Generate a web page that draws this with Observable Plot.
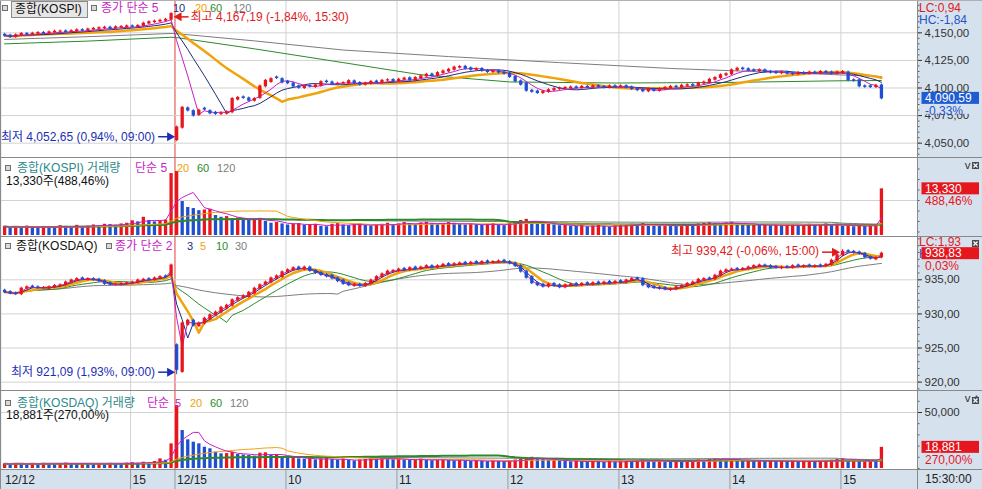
<!DOCTYPE html>
<html><head><meta charset="utf-8">
<script src="https://cdn.jsdelivr.net/npm/d3@7"></script>
<script src="https://cdn.jsdelivr.net/npm/@observablehq/plot@0.6"></script>
<style>
html,body{margin:0;padding:0;background:#fff}
#wrap{position:relative;width:982px;height:489px;overflow:hidden;background:#d6e1ee;font-family:"Liberation Sans","Noto Sans CJK KR",sans-serif}
.t{position:absolute;white-space:nowrap;font-size:12px;line-height:14px}
.n{font-size:11px}
.sq{position:absolute;width:4px;height:4px;background:#d9d9d9;border:1px solid #6f6f6f}
.ln{position:absolute;background:#8a8a8a}
.x{position:absolute;width:7px;height:7px;background:#4a4a4a}
</style></head>
<body><div id="wrap"></div>
<script>
// ---------- DATA ----------
const dates = ["12/12", "12/15"];
const dayStart = ["13:51", "09:00"];
const xTickLabels = ["12/12", "15", "12/15", "10", "11", "12", "13", "14", "15"];
const xTickTimes = ["12/12 13:51", "12/12 15:00", "12/15 09:00", "12/15 10:00", "12/15 11:00", "12/15 12:00", "12/15 13:00", "12/15 14:00", "12/15 15:00"];
const xTickBold = [true, false, true, false, false, false, false, false, false];

const kospiOpen = [
 4148.2,4147.4,4146.3,4147.9,4149.0,4148.6,4149.2,4149.9,4149.6,4150.5,
 4151.0,4151.3,4150.8,4151.5,4152.4,4152.0,4153.0,4153.7,4154.2,4154.7,
 4154.0,4155.0,4155.3,4155.9,4155.5,4156.2,4158.4,4159.7,4160.3,4161.0,4162.0,
 4052.7,4064.0,4081.5,4079.0,4075.5,4081.2,4079.0,4077.5,4076.3,4076.8,
 4078.0,4089.5,4091.5,4090.5,4088.5,4091.0,4101.5,4105.5,4109.5,4108.0,
 4105.5,4104.0,4101.5,4100.0,4101.8,4101.0,4102.0,4105.8,4105.0,4103.5,
 4104.0,4104.0,4106.0,4104.5,4103.0,4104.0,4105.8,4105.0,4106.8,4107.2,
 4106.0,4107.5,4108.8,4107.0,4109.0,4110.5,4112.2,4111.0,4113.5,4115.0,
 4116.5,4118.5,4119.2,4117.8,4116.5,4117.2,4115.5,4114.5,4115.2,4114.0,
 4113.0,4110.0,4106.0,4104.0,4097.5,4096.8,4095.5,4096.5,4098.0,4099.0,
 4099.5,4100.0,4100.6,4100.0,4101.0,4100.5,4101.6,4101.0,4100.5,4101.6,
 4101.0,4101.6,4100.5,4099.0,4098.2,4097.0,4098.6,4097.5,4099.0,4100.0,
 4101.2,4100.5,4102.0,4102.6,4102.0,4104.0,4105.0,4107.5,4109.0,4111.5,
 4112.5,4116.0,4117.6,4117.0,4116.0,4115.4,4116.0,4114.6,4114.0,4113.4,
 4114.0,4113.0,4112.5,4113.6,4113.0,4114.0,4113.5,4114.6,4114.0,4113.0,
 4113.5,4114.0,4107.0,4107.0,4101.5,4101.5,4100.8,4102.3];
const kospiClose = [
 4147.5,4146.2,4147.8,4149.0,4148.5,4149.2,4149.8,4149.6,4150.4,4151.0,
 4151.2,4150.8,4151.5,4152.3,4152.0,4153.0,4153.6,4154.2,4154.6,4154.0,
 4155.0,4155.3,4155.8,4155.5,4156.2,4158.3,4159.6,4160.2,4161.0,4161.8,4167.0,
 4064.2,4082.0,4079.6,4075.0,4079.5,4080.5,4077.0,4076.5,4077.0,4078.0,
 4090.0,4091.0,4091.0,4088.5,4090.0,4101.4,4106.5,4108.0,4109.0,4105.0,
 4104.3,4101.4,4100.2,4101.4,4101.4,4102.3,4105.3,4105.3,4103.8,4103.8,
 4104.3,4106.2,4104.5,4103.0,4104.0,4105.5,4105.0,4106.5,4107.0,4106.0,
 4107.5,4108.5,4107.0,4109.0,4110.5,4112.0,4111.0,4113.5,4115.0,4116.5,
 4118.5,4119.0,4117.5,4116.5,4117.0,4115.5,4114.5,4115.0,4114.0,4113.0,
 4110.0,4106.0,4103.0,4097.5,4096.5,4095.5,4096.5,4098.0,4099.0,4099.5,
 4100.0,4100.5,4100.0,4101.0,4100.5,4101.5,4101.0,4100.5,4101.5,4101.0,
 4101.5,4100.5,4099.0,4098.0,4097.0,4098.5,4097.5,4099.0,4100.0,4101.0,
 4100.5,4102.0,4102.5,4102.0,4104.0,4105.0,4107.5,4109.0,4111.5,4112.5,
 4116.0,4117.5,4117.0,4116.0,4115.5,4116.0,4114.5,4114.0,4113.5,4114.0,
 4113.0,4112.5,4113.5,4113.0,4114.0,4113.5,4114.5,4114.0,4113.0,4114.0,
 4114.5,4107.0,4106.5,4101.5,4101.0,4100.8,4102.0,4090.59];
const kospiHighTime = "12/12 15:30", kospiHigh = 4167.19;
const kospiLowTime = "12/15 09:00", kospiLow = 4052.65;
const kospiMA60Times = ["12/12 13:51","12/12 14:36","12/12 15:30","12/15 09:00","12/15 09:42","12/15 10:30","12/15 11:12","12/15 12:00","12/15 12:57","12/15 13:57","12/15 14:57","12/15 15:30"];
const kospiMA60 = [4140.0,4142.5,4146.0,4145.7,4135.5,4123.0,4112.0,4105.5,4104.5,4105.0,4106.5,4106.8];
const kospiMA120Times = ["12/12 13:51","12/12 14:36","12/12 15:30","12/15 09:00","12/15 09:42","12/15 10:30","12/15 11:27","12/15 12:27","12/15 13:27","12/15 14:27","12/15 15:30"];
const kospiMA120 = [4144.0,4146.5,4149.4,4149.2,4142.7,4134.4,4128.5,4123.0,4117.7,4114.0,4110.4];
const kospiVol = [
 2600,2300,2500,2200,2700,2400,2300,2600,2500,2200,
 2800,2600,2400,2900,2500,2700,3000,2800,3200,3100,
 2900,3300,3500,4200,3900,5200,4300,3900,4100,4400,17700,
 18300,9700,8000,7700,7100,7300,7500,5700,5200,5400,
 4800,5000,4500,4300,4700,4900,4000,3500,3700,3300,
 3000,3300,3400,2900,3100,3200,2600,2500,3200,3400,
 3000,2800,3100,3300,2900,2700,3000,3200,3500,3100,
 3300,3700,3400,3200,3600,3800,3400,3100,3300,3700,
 3500,3200,3000,3300,3100,2900,3200,3400,3000,2800,
 3400,4000,4300,4600,3900,3500,3200,3400,3000,2800,
 2900,2700,2600,2800,2500,2700,2900,2600,2400,2700,
 2800,3000,3200,2900,3400,3100,2900,2700,3000,2800,
 2600,2900,3100,2800,3300,3500,3700,3400,3200,3600,
 3800,3400,3100,3000,3200,2900,3100,2800,3000,2700,
 2900,3100,2800,3000,3200,2900,3100,3300,3000,3200,
 2600,2900,2500,2800,2600,2900,3000,13330];

const kosdaqOpen = [
 933.4,933.2,933.0,932.9,933.7,934.0,933.9,933.8,933.7,933.9,
 934.1,934.2,934.6,934.9,935.2,935.0,935.1,935.0,934.8,934.5,
 934.3,934.3,934.4,934.5,934.6,934.9,935.1,935.0,935.2,935.5,935.6,
 925.4,921.5,928.4,929.0,928.2,928.6,929.2,929.8,930.2,930.8,
 931.2,932.0,932.4,932.5,933.0,933.7,934.3,934.6,935.2,935.4,
 936.1,936.4,936.8,936.5,936.8,936.3,936.0,935.7,935.6,935.2,
 934.9,934.5,934.1,934.3,934.1,934.4,934.9,935.4,935.8,936.2,
 936.3,936.6,936.4,936.8,936.6,936.8,937.0,936.8,937.0,937.3,
 937.1,937.3,937.5,937.3,937.6,937.4,937.7,937.5,937.6,937.8,
 937.6,937.4,937.0,936.2,935.4,934.5,934.3,934.0,934.4,934.2,
 933.9,934.2,934.4,934.2,934.5,934.3,934.6,934.4,934.7,934.5,
 934.8,934.6,934.9,935.2,935.1,934.2,934.0,933.8,933.8,933.5,
 933.6,933.9,934.1,934.4,934.6,935.0,935.2,935.1,935.6,936.2,
 936.4,936.6,936.5,936.6,936.8,937.0,937.1,937.0,936.9,936.7,
 936.9,936.8,937.1,936.9,937.1,936.9,937.1,937.0,937.2,937.8,
 938.6,939.2,939.1,939.0,938.8,938.3,938.0,938.3];
const kosdaqClose = [
 933.2,933.0,932.9,933.7,933.9,933.9,933.8,933.8,933.9,934.1,
 934.2,934.6,934.9,935.1,935.1,935.1,935.0,934.8,934.4,934.3,
 934.3,934.4,934.5,934.6,934.9,935.0,935.0,935.2,935.4,935.4,937.1,
 921.8,928.6,929.0,928.3,928.6,929.3,929.8,930.2,930.9,931.2,
 932.0,932.3,932.6,933.1,933.7,934.2,934.6,935.2,935.5,936.1,
 936.4,936.7,936.6,936.8,936.3,936.0,935.7,935.5,935.2,934.8,
 934.4,934.2,934.3,934.1,934.4,934.9,935.4,935.8,936.2,936.3,
 936.5,936.4,936.7,936.6,936.8,937.0,936.8,937.0,937.2,937.1,
 937.3,937.4,937.3,937.5,937.4,937.6,937.5,937.6,937.7,937.6,
 937.4,937.0,936.2,935.3,934.5,934.2,934.0,934.3,934.1,933.9,
 934.2,934.3,934.2,934.4,934.3,934.5,934.4,934.6,934.5,934.7,
 934.6,934.9,935.1,935.1,934.2,933.9,933.8,933.7,933.6,933.6,
 933.9,934.1,934.4,934.6,935.0,935.1,935.1,935.6,936.2,936.4,
 936.5,936.5,936.6,936.8,937.0,937.1,937.0,936.8,936.8,936.8,
 936.8,937.0,937.0,937.0,937.0,937.0,937.0,937.2,937.8,938.6,
 939.1,939.1,939.0,938.8,938.3,938.1,938.2,938.83];
const kosdaqHighTime = "12/15 15:00", kosdaqHigh = 939.42;
const kosdaqLowTime = "12/15 09:00", kosdaqLow = 921.09;
const kosdaqVol = [
 4200,3900,4500,4100,3800,4300,4000,4600,4200,3900,
 4400,4800,4300,4000,4500,4200,3900,4300,4100,4600,
 4400,4000,4800,5200,4700,5600,5000,6200,8600,7400,22000,
 56200,33900,25600,23500,22000,19000,17600,14600,13100,13300,
 14600,12500,12000,11600,11000,13700,14000,11600,12500,10100,
 9500,10500,8600,8200,8800,7700,8600,9000,8000,7400,
 8400,7200,6800,7600,8200,9000,8600,9400,8800,8000,
 8600,7800,7200,7800,8400,7600,7000,7500,8000,7300,
 6900,7400,6800,6400,7000,6600,6200,6800,6400,6000,
 6800,7600,8400,9200,10000,8800,8000,7200,7600,6800,
 6400,6000,6600,6200,5800,6400,6000,5600,6200,5800,
 6000,6600,6200,7000,7600,6800,6200,6600,6000,5800,
 6400,6000,6600,7000,7600,7200,8000,8600,8000,7400,
 8200,7600,7000,7400,6800,7200,6600,7000,6400,6800,
 6200,6600,6000,6400,6800,6200,6600,7000,7400,8000,
 8800,7200,7600,6400,6800,7100,6600,18881];

const p1Ticks = [4050, 4075, 4100, 4125, 4150];
const p3Ticks = [920, 925, 930, 935];
const p4Ticks = [50000];
const p2Ticks = [10000];

// ---------- SETUP ----------
const FONT = '"Liberation Sans","Noto Sans CJK KR",sans-serif';
const C = {red:"#e8161c", blue:"#1f4fd1", mag:"#c81ec8", navy:"#1c2a78", orange:"#f0a30a",
  green:"#2a8a2a", gray:"#7d7d7d", teal:"#2b8a8a", grid:"#d2d2d2", day:"#e33b3b", annRed:"#e01b1b", annBlue:"#1b2fb5"};
function hm(m){return String(Math.floor(m/60)).padStart(2,"0")+":"+String(m%60).padStart(2,"0");}
const times = [];
dates.forEach((d,k)=>{const [h,m]=dayStart[k].split(":").map(Number);
  for(let t=h*60+m;t<=15*60+18;t+=3) times.push(d+" "+hm(t)); times.push(d+" 15:30");});
const N = times.length, idx = d3.range(N);
const ti = t => times.indexOf(t);
const tickIdx = xTickTimes.map(ti);
const dayIdx = ti("12/15 09:00");
const gridIdx = tickIdx.filter((v,k)=>k>0 && v!==dayIdx);
const XDOM = [-0.559, 164.5];
function sma(a,n){return a.map((_,i)=>{const s=Math.max(0,i-n+1);let t=0;for(let k=s;k<=i;k++)t+=a[k];return t/(i-s+1);});}
const fmt2 = d => d3.format(",.2f")(d).replace(".", ",");
const wrap = document.getElementById("wrap");

function addDiv(cls, style, text){const d=document.createElement("div");d.className=cls;Object.assign(d.style,style);if(text!=null)d.textContent=text;wrap.appendChild(d);return d;}
function label(x, cy, text, color, extra={}, cls="t"){return addDiv(cls,{left:x+"px",top:(cy-7)+"px",color,...extra},text);}
function num(x, cy, text, color){return label(x, cy, text, color, {}, "t n");}

function panel(top, h, ydom, marks){
  const svg = Plot.plot({width:982, height:h, marginLeft:1, marginRight:65, marginTop:0, marginBottom:0,
    x:{type:"linear", domain:XDOM, axis:null}, y:{type:"linear", domain:ydom, axis:null},
    style:{fontFamily:FONT, fontSize:"11.5px", background:"transparent", overflow:"visible", color:"#222"},
    marks:[Plot.frame({fill:"#fff", stroke:"none"}),
      Plot.ruleX(gridIdx, {x:d=>d-0.3, stroke:C.grid}),
      Plot.ruleX([dayIdx], {x:d=>d-0.3, stroke:C.day}),
      ...marks]});
  svg.style.position="absolute"; svg.style.left="0px"; svg.style.top=top+"px";
  wrap.appendChild(svg);
  return svg;
}
function candles(o,c){
  const rows = idx.map(i=>({i, hi:Math.max(o[i],c[i]), lo:Math.min(o[i],c[i]), col:c[i]>=o[i]?C.red:C.blue}));
  return [
    Plot.ruleX(rows,{x:"i",y1:"hi",y2:"lo",stroke:"col",strokeWidth:1,insetTop:-1.5,insetBottom:-1.5}),
    Plot.ruleX(rows,{x:"i",y1:"hi",y2:"lo",stroke:"col",strokeWidth:3.3,insetTop:-0.5,insetBottom:-0.5})];
}
function extremes(o,c,list){
  return list.map(([t,v])=>{const i=ti(t);const edge=v>Math.max(o[i],c[i])?Math.max(o[i],c[i]):Math.min(o[i],c[i]);
    return Plot.ruleX([{i,a:v,b:edge}],{x:"i",y1:"a",y2:"b",stroke:c[i]>=o[i]?C.red:C.blue,strokeWidth:1});});
}
function maLine(arr, color, w){return Plot.line(idx,{x:i=>i,y:i=>arr[i],stroke:color,strokeWidth:w});}
function knotLine(tms, vals, color, w){return Plot.line(tms.map((t,k)=>({i:ti(t),v:vals[k]})),{x:"i",y:"v",stroke:color,strokeWidth:w});}
function volBars(v){
  const rows = idx.map(i=>({i, v:v[i], col:(i===0||v[i]>=v[i-1])?C.red:C.blue}));
  return Plot.ruleX(rows,{x:"i",y1:0,y2:"v",stroke:"col",strokeWidth:3.3});
}
function rightAxis(ticks, minor, fmt){
  return [Plot.axisY(ticks,{anchor:"right",tickSize:4,tickPadding:3,tickFormat:fmt,color:"#333"}),
          Plot.ruleY(minor,{y:d=>d, x1:XDOM[1], x2:XDOM[1], stroke:"#555", insetRight:-2.5})];
}
function svgText(svg,x,y,text,color,opts={}){
  return d3.select(svg).append("text").attr("x",x).attr("y",y).attr("dy","0.35em")
    .attr("font-family",FONT).attr("font-size",opts.size||12).attr("fill",color)
    .attr("text-anchor",opts.anchor||"start").text(text);
}
function tag(svg, y, text, bg, sub, subColor){
  const g=d3.select(svg);
  g.append("rect").attr("x",921.5).attr("y",y-6).attr("width",57.5).attr("height",12).attr("fill",bg);
  svgText(svg,925,y,text,"#fff",{size:12});
  if(sub) svgText(svg,925,y+12.5,sub,subColor,{size:12});
}
function arrow(svg, xTip, y, xTail, color){
  const g=d3.select(svg).append("g"); const dir=Math.sign(xTail-xTip);
  g.append("line").attr("x1",xTail).attr("x2",xTip+dir*5).attr("y1",y).attr("y2",y).attr("stroke",color).attr("stroke-width",1.5);
  g.append("path").attr("d",`M${xTip},${y}L${xTip+dir*8},${y-4.5}L${xTip+dir*8},${y+4.5}Z`).attr("fill",color);
}

// ---------- PANEL 1: KOSPI ----------
const k5=sma(kospiClose,5), k10=sma(kospiClose,10), k20=sma(kospiClose,20);
const p1 = panel(0, 157, [4037.0, 4179.3], [
  Plot.gridY(p1Ticks,{stroke:C.grid,strokeOpacity:1}),
  knotLine(kospiMA120Times,kospiMA120,C.gray,1),
  knotLine(kospiMA60Times,kospiMA60,C.green,1),
  maLine(k20,C.orange,2.5), maLine(k10,C.navy,1), maLine(k5,C.mag,1),
  ...candles(kospiOpen,kospiClose),
  ...extremes(kospiOpen,kospiClose,[[kospiHighTime,kospiHigh],[kospiLowTime,kospiLow]]),
  ...rightAxis(p1Ticks, d3.range(4040,4180,5), fmt2)
]);
{
  const xs=p1.scale("x").apply, ys=p1.scale("y").apply;
  const xh=xs(ti(kospiHighTime))+3, yh=ys(kospiHigh)+3.5;
  arrow(p1,xh,yh,xh+15,C.annRed);
  svgText(p1,xh+17,yh,"최고 4,167,19 (-1,84%, 15:30)",C.annRed);
  const xl=xs(ti(kospiLowTime))-1, yl=ys(kospiLow)-3;
  arrow(p1,xl,yl,xl-17,C.annBlue);
  svgText(p1,xl-20,yl,"최저 4,052,65 (0,94%, 09:00)",C.annBlue,{anchor:"end"});
  svgText(p1,919,7.5,"LC:0,94","#e01b1b");
  svgText(p1,919,19.5,"HC:-1,84","#2255c8");
  const yc=ys(kospiClose[N-1]);
  d3.select(p1).append("rect").attr("x",921).attr("y",yc+6).attr("width",58).attr("height",10).attr("fill","#d6e1ee");
  tag(p1,yc,fmt2(kospiClose[N-1]),"#1f5bd1","-0,33%","#2255c8");
}

// ---------- PANEL 2: KOSPI volume ----------
const kv5=sma(kospiVol,5), kv20=sma(kospiVol,20), kv60=sma(kospiVol,60), kv120=sma(kospiVol,120);
const p2 = panel(157, 79, [-290, 22290], [
  Plot.gridY(p2Ticks,{stroke:C.grid,strokeOpacity:1}),
  volBars(kospiVol),
  maLine(kv120,C.gray,1), maLine(kv60,C.green,2), maLine(kv20,C.orange,1), maLine(kv5,C.mag,1),
  ...rightAxis([], [1000,4000,7000,10000,13000,16000,19000], ()=>"")
]);
{
  const ys=p2.scale("y").apply; const yv=ys(kospiVol[N-1]);
  tag(p2,yv,d3.format(",")(kospiVol[N-1]),"#e5161d","488,46%","#e5161d");
}

// ---------- PANEL 3: KOSDAQ ----------
const q2=sma(kosdaqClose,2), q3=sma(kosdaqClose,3), q5=sma(kosdaqClose,5), q10=sma(kosdaqClose,10), q30=sma(kosdaqClose,30);
const p3 = panel(236, 154, [918.77, 941.35], [
  Plot.gridY(p3Ticks,{stroke:C.grid,strokeOpacity:1}),
  maLine(q30,C.gray,1), maLine(q10,C.green,1), maLine(q5,C.orange,2.5), maLine(q3,C.navy,1), maLine(q2,C.mag,1),
  ...candles(kosdaqOpen,kosdaqClose),
  ...extremes(kosdaqOpen,kosdaqClose,[[kosdaqHighTime,kosdaqHigh],[kosdaqLowTime,kosdaqLow]]),
  ...rightAxis(p3Ticks, d3.range(919,942,1), fmt2)
]);
{
  const xs=p3.scale("x").apply, ys=p3.scale("y").apply;
  const xh=xs(ti(kosdaqHighTime))-2, yh=ys(kosdaqHigh)+3;
  arrow(p3,xh,yh,xh-18,C.annRed);
  svgText(p3,xh-21,yh-1,"최고 939,42 (-0,06%, 15:00)",C.annRed,{anchor:"end"});
  const xl=xs(ti(kosdaqLowTime))-1, yl=ys(kosdaqLow)-2;
  arrow(p3,xl,yl,xl-17,C.annBlue);
  svgText(p3,xl-20,yl,"최저 921,09 (1,93%, 09:00)",C.annBlue,{anchor:"end"});
  svgText(p3,919,5.5,"LC:1,93","#e01b1b");
  svgText(p3,919,18,"HC:-0,06","#2255c8");
  const yc=ys(kosdaqClose[N-1]);
  tag(p3,yc,fmt2(kosdaqClose[N-1]),"#e5161d","0,03%","#e5161d");
}

// ---------- PANEL 4: KOSDAQ volume ----------
const qv5=sma(kosdaqVol,5), qv20=sma(kosdaqVol,20), qv60=sma(kosdaqVol,60), qv120=sma(kosdaqVol,120);
const p4 = panel(390, 79, [-893, 69643], [
  Plot.gridY(p4Ticks,{stroke:C.grid,strokeOpacity:1}),
  volBars(kosdaqVol),
  maLine(qv120,C.gray,1), maLine(qv60,C.green,2), maLine(qv20,C.orange,1), maLine(qv5,C.mag,1),
  ...rightAxis(p4Ticks, [0,10000,20000,30000,40000,60000], d3.format(","))
]);
{
  const ys=p4.scale("y").apply; const yv=ys(kosdaqVol[N-1]);
  tag(p4,yv,d3.format(",")(kosdaqVol[N-1]),"#e5161d","270,00%","#e5161d");
}

// ---------- X AXIS BAND ----------
const xa = Plot.plot({width:982, height:20, marginLeft:1, marginRight:65, marginTop:0, marginBottom:0,
  x:{type:"linear", domain:XDOM, axis:null}, y:{axis:null},
  style:{fontFamily:FONT, fontSize:"12px", background:"transparent", overflow:"visible", color:"#222"},
  marks:[
    Plot.ruleX(tickIdx.slice(1), {x:d=>d-0.3, stroke:"#9a9a9a"}),
    Plot.text(xTickLabels.map((l,k)=>({i:tickIdx[k], l, b:xTickBold[k]})),
      {x:d=>d.i-0.3, text:"l", frameAnchor:"middle", textAnchor:"start", dx:2, dy:1,
       fontWeight:d=>d.b?"bold":"normal", fill:"#222", fontSize:12})
  ]});
xa.style.position="absolute"; xa.style.left="0px"; xa.style.top="469px";
wrap.appendChild(xa);
label(925, 479, "15:30:00", "#222", {fontSize:"12px"});

// ---------- BORDERS ----------
[157,236,390,469].forEach(y=>addDiv("ln",{left:"0px",top:y+"px",width:"982px",height:"1px"}));
addDiv("ln",{left:"917px",top:"0px",width:"1px",height:"489px"});
addDiv("ln",{left:"0px",top:"0px",width:"1px",height:"489px"});
addDiv("ln",{left:"0px",top:"0px",width:"982px",height:"1px",background:"#b0b0b0"});
[162,240,397].forEach(y=>{const d=addDiv("x",{left:"972px",top:y+"px"});
  d.innerHTML='<svg width="7" height="7" style="display:block"><path d="M1.5,1.5L5.5,5.5M5.5,1.5L1.5,5.5" stroke="#fff" stroke-width="1.2"/></svg>';});

// ---------- HEADERS ----------
addDiv("sq",{left:"2px",top:"5px"});
addDiv("t",{left:"11px",top:"1px",height:"17px",lineHeight:"15px",border:"1px solid #8a8a8a",background:"#e6e6e6",color:"#111",paddingLeft:"3px",boxSizing:"border-box",width:"77px"},"종합(KOSPI)");
addDiv("sq",{left:"91px",top:"5px"});
label(101,8,"종가 단순 5",C.mag); num(173,8,"10",C.navy); num(195,8,"20",C.orange);
num(210,8,"60",C.green); num(233,8,"120",C.gray);

addDiv("sq",{left:"5px",top:"165px"});
label(17,167.5,"종합(KOSPI) 거래량",C.teal); label(135,167.5,"단순 5",C.mag);
num(177,167.5,"20",C.orange); num(197,167.5,"60",C.green); num(217,167.5,"120",C.gray);
label(6,180.5,"13,330주(488,46%)","#111");

addDiv("sq",{left:"5px",top:"243px"});
label(16,245.5,"종합(KOSDAQ)","#111");
addDiv("sq",{left:"106px",top:"243px"});
label(115,245.5,"종가 단순 2",C.mag); num(187,245.5,"3",C.navy); num(200,245.5,"5",C.orange);
num(216,245.5,"10",C.green); num(235,245.5,"30",C.gray);

addDiv("sq",{left:"5px",top:"400px"});
label(17,402.5,"종합(KOSDAQ) 거래량",C.teal); label(147,402.5,"단순",C.mag); num(175,402.5,"5",C.mag);
num(190,402.5,"20",C.orange); num(210,402.5,"60",C.green); num(230,402.5,"120",C.gray);
label(6,415,"18,881주(270,00%)","#111");
</script></body></html>
